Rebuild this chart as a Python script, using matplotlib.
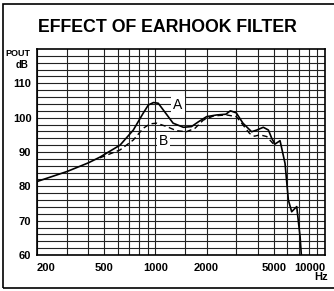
import numpy as np
import matplotlib.pyplot as plt
from matplotlib.patches import Rectangle

# curve A (without filter)
freq_a = [200, 300, 400, 470, 618, 740, 846, 908, 973, 1038, 1133, 1270, 1460, 1631,
          1792, 2003, 2305, 2600, 2765, 2996, 3280, 3690, 3960, 4325, 4635, 4850,
          5070, 5430, 5810, 6080, 6360, 6810, 7130, 7250]
db_a = [81.4, 84.3, 86.8, 88.5, 92.0, 96.4, 101.3, 103.7, 104.4, 104.2, 101.7, 98.4,
        97.2, 97.4, 98.8, 100.3, 100.8, 101.0, 102.0, 101.4, 98.4, 95.9, 96.4, 97.2,
        96.4, 94.0, 92.3, 93.3, 86.7, 76.0, 72.6, 74.1, 65.3, 60.0]

# curve B (with earhook filter)
freq_b = [470, 618, 740, 846, 930, 1016, 1165, 1330, 1520, 1710, 1915, 2200, 2620,
          3000, 3280, 3590, 3840, 4130, 4530, 4930, 5070]
db_b = [88.3, 90.6, 93.5, 96.9, 98.2, 98.4, 97.4, 96.2, 95.9, 96.9, 99.3, 100.5,
        100.8, 100.3, 97.9, 95.4, 94.6, 95.0, 94.5, 92.5, 92.3]

x_ticks = [200, 500, 1000, 2000, 5000, 10000]
x_minor = [300, 400, 600, 700, 800, 900, 1500, 3000, 4000, 6000, 7000, 8000, 9000]
y_ticks = [60, 70, 80, 90, 100, 110]

font = ['Liberation Sans', 'DejaVu Sans']

fig = plt.figure(figsize=(3.34, 2.91), dpi=100)
ax = fig.add_axes([37 / 334, 1 - 255 / 291, 288 / 334, 206 / 291])

ax.plot(freq_a, db_a, color='black', lw=1.2, zorder=3)
ax.plot(freq_b, db_b, color='black', lw=1.0, dashes=(4, 2.5), zorder=3)

ax.set_xscale('log')
ax.set_xlim(200, 10000)
ax.set_ylim(60, 120)

ax.set_xticks(x_ticks)
ax.set_xticklabels([str(t) for t in x_ticks])
ax.set_xticks(x_minor, minor=True)
ax.set_xticklabels([], minor=True)
ax.set_yticks(y_ticks)
ax.set_yticklabels([str(t) for t in y_ticks])
ax.set_yticks(np.arange(62, 120, 2), minor=True)

ax.grid(which='both', color='#222222', lw=0.8, zorder=1)
ax.tick_params(which='both', length=0)
ax.tick_params(axis='y', pad=4)
ax.tick_params(axis='x', pad=6)
for lab in ax.get_xticklabels() + ax.get_yticklabels():
    lab.set_family(font)
    lab.set_fontweight('bold')
    lab.set_fontsize(8)
xl = ax.get_xticklabels()
xl[0].set_ha('left')
xl[-1].set_ha('right')
for s in ax.spines.values():
    s.set_linewidth(1.2)

ax.text(1359, 103.7, 'A', fontsize=10, ha='center', va='center', zorder=4,
        family=font, bbox=dict(facecolor='white', edgecolor='none', pad=1.5))
ax.text(1112, 93.3, 'B', fontsize=10, ha='center', va='center', zorder=4,
        family=font, bbox=dict(facecolor='white', edgecolor='none', pad=1.5))

fig.text(167 / 334, 1 - 27 / 291, 'EFFECT OF EARHOOK FILTER', ha='center', va='center',
         fontsize=12.8, fontweight='bold', family=font)
fig.text(30 / 334, 1 - 54 / 291, 'POUT', ha='right', va='center', fontsize=6.5,
         fontweight='bold', family=font)
fig.text(29 / 334, 1 - 65 / 291, 'dB', ha='right', va='center', fontsize=7,
         fontweight='bold', family=font)
fig.text(328 / 334, 1 - 277 / 291, 'Hz', ha='right', va='center', fontsize=8,
         fontweight='bold', family=font)

fig.patches.append(Rectangle((3 / 334, 1 - 288 / 291), 340 / 334, 284 / 291,
                             transform=fig.transFigure, fill=False, lw=1.2,
                             edgecolor='black'))

fig.savefig('out.png', dpi=100)
